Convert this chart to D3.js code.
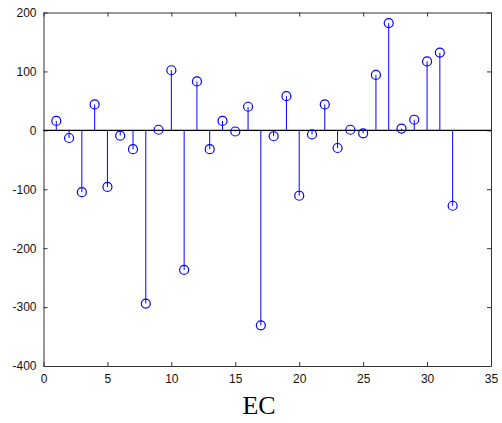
<!DOCTYPE html>
<html>
<head>
<meta charset="utf-8">
<script src="https://cdn.jsdelivr.net/npm/d3@7"></script>
<style>
  body { margin: 0; background: #fff; }
  .axis text { font-family: Arial, 'Liberation Sans', sans-serif; font-size: 12px; fill: #111; }
  .axis path, .axis line { stroke: #333; }
</style>
</head>
<body>
<div id="chart"></div>
<script>
const xs = d3.range(1, 33)
const values = [16, -13, -105, 44, -96, -9, -32, -294, 1, 102, -237, 83,
  -32, 16, -2, 40, -331, -10, 58, -111, -7, 44, -30, 1, -5, 94, 182, 3,
  18, 117, 132, -128]
const xTicks = [0, 5, 10, 15, 20, 25, 30, 35]
const yTicks = [-400, -300, -200, -100, 0, 100, 200]
const xLabel = 'EC'

const width = 502
const height = 423
const plotLeft = 43.5
const plotRight = 491
const plotTop = 12.5
const plotBottom = 366

const svg = d3
  .select('#chart')
  .append('svg')
  .attr('width', width)
  .attr('height', height)

const scaleX = d3.scaleLinear().domain([0, 35]).range([plotLeft, plotRight])
const scaleY = d3.scaleLinear().domain([-400, 200]).range([plotBottom, plotTop])

// axes with inward ticks, like matlab; plain hyphen for negatives
svg
  .append('g')
  .attr('class', 'axis')
  .attr('transform', 'translate(0,' + plotBottom + ')')
  .call(d3.axisBottom(scaleX).tickValues(xTicks).tickFormat(d => String(d)).tickSizeInner(-4).tickSizeOuter(0).tickPadding(8))

svg
  .append('g')
  .attr('class', 'axis')
  .attr('transform', 'translate(' + plotLeft + ',0)')
  .call(d3.axisLeft(scaleY).tickValues(yTicks).tickFormat(d => String(d)).tickSizeInner(-4).tickSizeOuter(0).tickPadding(7))

svg
  .append('g')
  .attr('class', 'axis')
  .attr('transform', 'translate(0,' + plotTop + ')')
  .call(d3.axisTop(scaleX).tickValues(xTicks).tickSizeInner(-4).tickSizeOuter(0).tickFormat(''))

svg
  .append('g')
  .attr('class', 'axis')
  .attr('transform', 'translate(' + plotRight + ',0)')
  .call(d3.axisRight(scaleY).tickValues(yTicks).tickSizeInner(-4).tickSizeOuter(0).tickFormat(''))

// baseline
svg
  .append('line')
  .attr('x1', plotLeft)
  .attr('x2', plotRight)
  .attr('y1', scaleY(0))
  .attr('y2', scaleY(0))
  .attr('stroke', '#000')
  .attr('stroke-width', 1.2)

// stems
const data = xs.map((x, i) => [x, values[i]])

svg
  .append('g')
  .selectAll('line')
  .data(data)
  .enter()
  .append('line')
  .attr('x1', d => scaleX(d[0]))
  .attr('x2', d => scaleX(d[0]))
  .attr('y1', scaleY(0))
  .attr('y2', d => scaleY(d[1]))
  .attr('stroke', '#0000ff')
  .attr('stroke-width', 1)

svg
  .append('g')
  .selectAll('circle')
  .data(data)
  .enter()
  .append('circle')
  .attr('cx', d => scaleX(d[0]))
  .attr('cy', d => scaleY(d[1]))
  .attr('r', 4.5)
  .attr('fill', 'none')
  .attr('stroke', '#0000ff')
  .attr('stroke-width', 1.2)

svg
  .append('text')
  .attr('x', 259)
  .attr('y', 414)
  .attr('text-anchor', 'middle')
  .style('font-family', "'Liberation Serif', 'Times New Roman', serif")
  .style('font-size', '26px')
  .text(xLabel)
</script>
</body>
</html>
